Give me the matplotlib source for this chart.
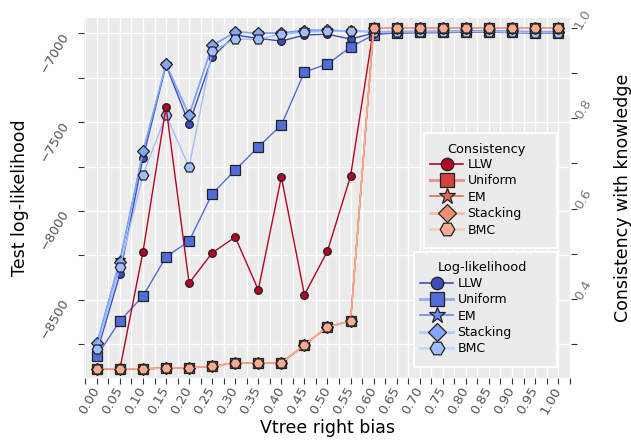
import matplotlib
matplotlib.use("Agg")
import matplotlib.pyplot as plt
from matplotlib.ticker import MultipleLocator, FixedLocator, FuncFormatter
from matplotlib.lines import Line2D
from matplotlib.patches import Rectangle

# Vtree right bias values
bias = [0.00, 0.05, 0.10, 0.15, 0.20, 0.25, 0.30, 0.35, 0.40, 0.45, 0.50,
        0.55, 0.60, 0.65, 0.70, 0.75, 0.80, 0.85, 0.90, 0.95, 1.00]

methods = ["LLW", "Uniform", "EM", "Stacking", "BMC"]

# Test log-likelihood per method
ll_llw = [-8795, -8355, -7702, -7180, -7511, -7135, -7011, -7030, -7045, -7011, -7006,
          -7034, -7000, -7000, -6998, -6998, -6995, -6995, -6998, -7000, -7000]
ll_uniform = [-8815, -8618, -8478, -8258, -8169, -7904, -7770, -7640, -7517, -7219, -7174,
              -7079, -7010, -6998, -6996, -6995, -6993, -6993, -6995, -6998, -6998]
ll_em = [-8747, -8275, -7674, -7174, -7461, -7073, -6994, -7000, -7000, -6983, -6983,
         -6989, -6992, -6992, -6990, -6990, -6988, -6988, -6990, -6992, -6992]
ll_stacking = [-8740, -8287, -7663, -7174, -7461, -7068, -6994, -7000, -7000, -6990, -6985,
               -6989, -6992, -6992, -6990, -6990, -6988, -6988, -6990, -6992, -6992]
ll_bmc = [-8775, -8315, -7798, -7461, -7753, -7101, -7034, -7034, -7006, -6995, -6990,
          -6989, -6995, -6995, -6993, -6993, -6992, -6992, -6995, -6998, -6998]

# Consistency with knowledge per method
cons_llw = [0.245, 0.245, 0.504, 0.825, 0.435, 0.502, 0.537, 0.420, 0.670, 0.409, 0.506,
            0.672, 1.0, 1.0, 1.0, 1.0, 1.0, 1.0, 1.0, 1.0, 1.0]
cons_uniform = [0.245, 0.245, 0.245, 0.247, 0.247, 0.251, 0.258, 0.258, 0.258, 0.298, 0.338,
                0.351, 1.0, 1.0, 1.0, 1.0, 1.0, 1.0, 1.0, 1.0, 1.0]
cons_em = [0.245, 0.245, 0.245, 0.247, 0.247, 0.251, 0.258, 0.258, 0.258, 0.298, 0.338,
           0.351, 1.0, 1.0, 1.0, 1.0, 1.0, 1.0, 1.0, 1.0, 1.0]
cons_stacking = [0.245, 0.245, 0.245, 0.247, 0.247, 0.251, 0.258, 0.258, 0.258, 0.298, 0.338,
                 0.351, 1.0, 1.0, 1.0, 1.0, 1.0, 1.0, 1.0, 1.0, 1.0]
cons_bmc = [0.245, 0.245, 0.245, 0.247, 0.247, 0.251, 0.258, 0.258, 0.258, 0.298, 0.338,
            0.351, 1.0, 1.0, 1.0, 1.0, 1.0, 1.0, 1.0, 1.0, 1.0]

ll_series = [ll_llw, ll_uniform, ll_em, ll_stacking, ll_bmc]
cons_series = [cons_llw, cons_uniform, cons_em, cons_stacking, cons_bmc]

markers = ["o", "s", "*", "D", "H"]
msizes = [5.5, 7.5, 7.5, 6.0, 7.5]
leg_msizes = [9.0, 10.5, 12.0, 9.0, 10.5]
leg_lw = [1.2, 2.2, 1.2, 2.0, 2.0]
leg_alpha = [1.0, 0.55, 1.0, 0.6, 0.6]
cmap = plt.get_cmap("coolwarm")
blues = [cmap(v) for v in (0.0, 0.075, 0.15, 0.225, 0.30)]
reds = [cmap(v) for v in (1.0, 0.925, 0.85, 0.775, 0.70)]

bg = "#EBEBEB"
edge = "#222222"
fig = plt.figure(figsize=(6.31, 4.42), dpi=100)
ax = fig.add_axes([0.133, 0.145, 0.772, 0.814])
ax.set_facecolor(bg)
for s in ax.spines.values():
    s.set_visible(False)

for vals, m, ms, c, name in zip(ll_series, markers, msizes, blues, methods):
    ax.plot(bias, vals, marker=m, markersize=ms, color=c, lw=1.0,
            markerfacecolor=c, markeredgecolor=edge, markeredgewidth=0.9, label=name)

ax.set_xlim(-0.028, 1.028)
ax.set_ylim(-8938, -6916)
ax.xaxis.set_major_locator(FixedLocator(bias))
ax.xaxis.set_minor_locator(MultipleLocator(0.025))
ax.xaxis.set_major_formatter(FuncFormatter(lambda v, p: f"{v:.2f}"))
ax.yaxis.set_major_locator(FixedLocator([-8500, -8000, -7500, -7000]))
ax.yaxis.set_minor_locator(FixedLocator([-8750, -8250, -7750, -7250]))
ax.yaxis.set_major_formatter(FuncFormatter(lambda v, p: f"\u2212{abs(int(v))}"))
ax.grid(True, which="both", color="white", lw=1.0)
ax.set_axisbelow(True)
ax.tick_params(axis="both", which="both", length=4, width=0.8, color="#333333")
ax.tick_params(axis="x", which="major", labelsize=9.5, labelcolor="#555555", pad=3)
ax.tick_params(axis="y", which="major", labelsize=9.5, labelcolor="#555555", pad=9)
for lab in ax.get_xticklabels():
    lab.set_rotation(60)
    lab.set_ha("right")
    lab.set_va("center")
    lab.set_rotation_mode("anchor")
for lab in ax.get_yticklabels():
    lab.set_rotation(60)
    lab.set_ha("right")
    lab.set_va("center")
    lab.set_rotation_mode("anchor")
ax.set_xlabel("Vtree right bias", fontsize=12.5, labelpad=2)
ax.set_ylabel("Test log-likelihood", fontsize=12.5, labelpad=6)

ax2 = ax.twinx()
for s in ax2.spines.values():
    s.set_visible(False)
for vals, m, ms, c, name in zip(cons_series, markers, msizes, reds, methods):
    ax2.plot(bias, vals, marker=m, markersize=ms, color=c, lw=1.0,
             markerfacecolor=c, markeredgecolor=edge, markeredgewidth=0.9, label=name)
ax2.set_ylim(0.225, 1.022)
ax2.yaxis.set_major_locator(FixedLocator([0.4, 0.6, 0.8, 1.0]))
ax2.yaxis.set_minor_locator(FixedLocator([0.3, 0.5, 0.7, 0.9]))
ax2.yaxis.set_major_formatter(FuncFormatter(lambda v, p: f"{v:.1f}"))
ax2.tick_params(axis="y", which="both", length=4, width=0.8, color="#333333")
ax2.tick_params(axis="y", which="major", labelsize=9.5, labelcolor="#777777", pad=1)
for lab in ax2.get_yticklabels():
    lab.set_rotation(60)
    lab.set_ha("left")
    lab.set_va("center")
    lab.set_rotation_mode("anchor")
ax2.set_ylabel("Consistency with knowledge", fontsize=12.5, labelpad=14)


def legend_handles(colors):
    handles = []
    for m, ms, c, lw, a in zip(markers, leg_msizes, colors, leg_lw, leg_alpha):
        r, g, b, _ = c
        # secondary methods get a paler connecting line
        line_c = (r + (1 - r) * (1 - a), g + (1 - g) * (1 - a), b + (1 - b) * (1 - a))
        handles.append(Line2D([], [], marker=m, markersize=ms, color=line_c, lw=lw,
                              markerfacecolor=c, markeredgecolor=edge,
                              markeredgewidth=0.9))
    return handles


def draw_legend(colors, title, frame, title_xy, anchor):
    x0, y0, x1, y1 = frame
    ax2.add_patch(Rectangle((x0, y0), x1 - x0, y1 - y0, transform=ax2.transAxes,
                            facecolor=bg, edgecolor="white", lw=1.3, zorder=4,
                            clip_on=False))
    ax2.text(title_xy[0], title_xy[1], title, transform=ax2.transAxes,
             ha="center", va="center", fontsize=9.3, zorder=6)
    leg = ax2.legend(handles=legend_handles(colors), labels=methods, loc="upper left",
                     bbox_to_anchor=anchor, frameon=False, fontsize=9,
                     borderpad=0.0, borderaxespad=0.0, handlelength=2.64,
                     handletextpad=0.35, labelspacing=0.27)
    leg.set_zorder(6)
    return leg


def px(x, y):
    return ((x - 84) / 487.0, (378 - y) / 360.0)


cx0, cy1 = px(424, 133)
cx1, cy0 = px(557, 248)
leg1 = draw_legend(reds, "Consistency", (cx0, cy0, cx1, cy1), px(486.5, 149), px(430, 158))
ax2.add_artist(leg1)
lx0, ly1 = px(414, 252)
lx1, ly0 = px(557, 367)
leg2 = draw_legend(blues, "Log-likelihood", (lx0, ly0, lx1, ly1), px(482, 268), px(420, 277))

fig.savefig("out.png", dpi=100, facecolor="white")
